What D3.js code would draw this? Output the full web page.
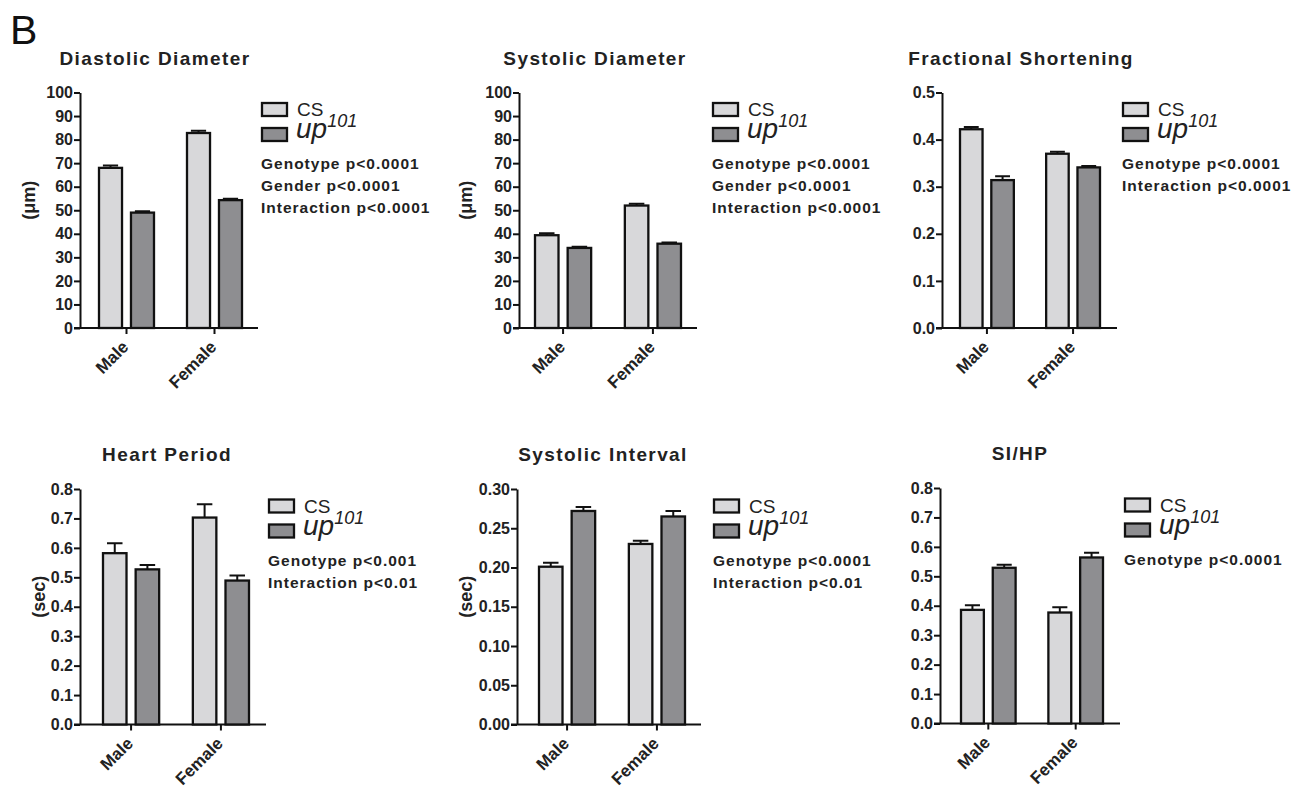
<!DOCTYPE html>
<html>
<head>
<meta charset="utf-8">
<script src="https://cdn.jsdelivr.net/npm/d3@7"></script>
<style>
  body { margin: 0; background: #fff; }
  svg { font-family: "Liberation Sans", Arial, sans-serif; }
  .axis path, .axis line { stroke: #111; stroke-width: 2px; }
  .axis text { font-size: 16px; font-weight: bold; fill: #222; font-family: "Liberation Sans", Arial, sans-serif; }
</style>
</head>
<body>
<div id="chart"></div>
<script>
var W = 1295, H = 791;

var categories = ["Male", "Female"];
var series = ["CS", "up101"];
var colors = {CS: "#d8d8da", up101: "#8e8e91"};

// values (mean, sem)
var diastolicCS = [68.0, 82.8], diastolicCSErr = [1.0, 1.0];
var diastolicUp = [49.0, 54.3], diastolicUpErr = [0.6, 0.6];
var systolicCS = [39.4, 52.0], systolicCSErr = [0.8, 0.8];
var systolicUp = [34.0, 35.8], systolicUpErr = [0.5, 0.5];
var fsCS = [0.422, 0.370], fsCSErr = [0.005, 0.004];
var fsUp = [0.314, 0.341], fsUpErr = [0.008, 0.003];
var hpCS = [0.582, 0.703], hpCSErr = [0.034, 0.045];
var hpUp = [0.527, 0.489], hpUpErr = [0.015, 0.017];
var siCS = [0.201, 0.230], siCSErr = [0.005, 0.004];
var siUp = [0.272, 0.265], siUpErr = [0.005, 0.007];
var sihpCS = [0.386, 0.377], sihpCSErr = [0.016, 0.018];
var sihpUp = [0.529, 0.564], sihpUpErr = [0.010, 0.016];

var titles = ["Diastolic Diameter", "Systolic Diameter", "Fractional Shortening",
              "Heart Period", "Systolic Interval", "SI/HP"];
var yLabels = ["(\u03bcm)", "(\u03bcm)", "", "(sec)", "(sec)", ""];
var stats = [
  ["Genotype p<0.0001", "Gender p<0.0001", "Interaction p<0.0001"],
  ["Genotype p<0.0001", "Gender p<0.0001", "Interaction p<0.0001"],
  ["Genotype p<0.0001", "Interaction p<0.0001"],
  ["Genotype p<0.001", "Interaction p<0.01"],
  ["Genotype p<0.0001", "Interaction p<0.01"],
  ["Genotype p<0.0001"]
];
var yMax = [100, 100, 0.5, 0.8, 0.30, 0.8];
var yStep = [10, 10, 0.1, 0.1, 0.05, 0.1];
var yFormat = ["d", "d", ".1f", ".1f", ".2f", ".1f"];

var values = [
  [diastolicCS, diastolicCSErr, diastolicUp, diastolicUpErr],
  [systolicCS, systolicCSErr, systolicUp, systolicUpErr],
  [fsCS, fsCSErr, fsUp, fsUpErr],
  [hpCS, hpCSErr, hpUp, hpUpErr],
  [siCS, siCSErr, siUp, siUpErr],
  [sihpCS, sihpCSErr, sihpUp, sihpUpErr]
];

// layout of each panel: axis origin, axis length, band range, label spots
var layout = [
  {x: 80,  top: 92.5, w: 178, band: [19, 162], ylx: 28,  tx: 155,  lx: 261},
  {x: 519, top: 92.5, w: 178, band: [16, 162], ylx: 465, tx: 595,  lx: 712},
  {x: 942, top: 92.5, w: 175, band: [18, 158], ylx: 0,   tx: 1021, lx: 1122},
  {x: 80,  top: 489,  w: 186, band: [23, 169], ylx: 38,  tx: 167,  lx: 268},
  {x: 517, top: 489,  w: 184, band: [22, 168], ylx: 465, tx: 603,  lx: 713},
  {x: 940, top: 488,  w: 180, band: [21, 163], ylx: 0,   tx: 1020, lx: 1124}
];
var plotH = 235.5;

var svg = d3.select("#chart")
            .append("svg")
            .attr("width", W)
            .attr("height", H);

svg.append("text")
   .attr("x", 10)
   .attr("y", 44)
   .style("font-size", "41px")
   .attr("fill", "#111")
   .text("B");

layout.forEach(function(L, i) {
	var g = svg.append("g").attr("transform", "translate(" + L.x + "," + L.top + ")");
	var v = values[i];
	var rows = categories.map(function(c, k) {
		return {cat: c, bars: [
			{s: "CS", val: v[0][k], err: v[1][k]},
			{s: "up101", val: v[2][k], err: v[3][k]}
		]};
	});

	var xScale = d3.scaleBand()
	               .domain(categories)
	               .range(L.band)
	               .paddingInner(0.375)
	               .paddingOuter(0);
	var xInner = d3.scaleBand()
	               .domain(series)
	               .range([0, xScale.bandwidth()])
	               .paddingInner(0.28);
	var yScale = d3.scaleLinear()
	               .domain([0, yMax[i]])
	               .range([plotH, 0]);

	var ticks = d3.range(0, Math.round(yMax[i] / yStep[i]) + 1).map(function(t) { return t * yStep[i]; });

	// y axis
	g.append("g")
	 .attr("class", "axis")
	 .call(d3.axisLeft(yScale).tickValues(ticks).tickSize(6).tickSizeOuter(0)
	         .tickFormat(d3.format(yFormat[i])).tickPadding(1));

	// x axis line and ticks
	g.append("line")
	 .attr("x1", -6).attr("x2", L.w)
	 .attr("y1", plotH).attr("y2", plotH)
	 .attr("stroke", "#111").attr("stroke-width", 2);
	g.selectAll(".xtick")
	 .data(categories)
	 .enter()
	 .append("line")
	 .attr("x1", d => xScale(d) + xScale.bandwidth() / 2)
	 .attr("x2", d => xScale(d) + xScale.bandwidth() / 2)
	 .attr("y1", plotH).attr("y2", plotH + 6)
	 .attr("stroke", "#111").attr("stroke-width", 2);
	g.selectAll(".xlab")
	 .data(categories)
	 .enter()
	 .append("text")
	 .attr("transform", d => "translate(" + (xScale(d) + xScale.bandwidth() / 2 + 3) + "," + (plotH + 20) + ") rotate(-45)")
	 .attr("text-anchor", "end")
	 .style("font-size", "17px")
	 .style("font-weight", "bold")
	 .attr("fill", "#222")
	 .text(d => d);

	// bars and error bars
	var grp = g.selectAll(".grp")
	           .data(rows)
	           .enter()
	           .append("g")
	           .attr("transform", d => "translate(" + xScale(d.cat) + ",0)");
	var bw = xInner.bandwidth();
	grp.selectAll(".err")
	   .data(d => d.bars)
	   .enter()
	   .append("path")
	   .attr("d", function(d) {
		   var cx = xInner(d.s) + bw / 2, yt = yScale(d.val + d.err), yb = yScale(d.val);
		   return "M" + cx + "," + yb + "V" + yt + "M" + (cx - bw * 0.33) + "," + yt + "H" + (cx + bw * 0.33);
	   })
	   .attr("stroke", "#111")
	   .attr("stroke-width", 2)
	   .attr("fill", "none");
	grp.selectAll("rect")
	   .data(d => d.bars)
	   .enter()
	   .append("rect")
	   .attr("x", d => xInner(d.s))
	   .attr("y", d => yScale(d.val))
	   .attr("width", bw)
	   .attr("height", d => plotH - yScale(d.val))
	   .attr("fill", d => colors[d.s])
	   .attr("stroke", "#111")
	   .attr("stroke-width", 2.3);

	// title
	svg.append("text")
	   .attr("x", L.tx)
	   .attr("y", L.top - 28)
	   .attr("text-anchor", "middle")
	   .style("font-size", "19px")
	   .style("font-weight", "bold")
	   .style("letter-spacing", "1.4px")
	   .attr("fill", "#222")
	   .text(titles[i]);

	// y label
	if (yLabels[i]) {
		svg.append("text")
		   .attr("transform", "translate(" + (L.ylx + 7) + "," + (L.top + plotH / 2 - 10) + ") rotate(-90)")
		   .attr("text-anchor", "middle")
		   .style("font-size", "18px")
		   .style("font-weight", "bold")
		   .attr("fill", "#222")
		   .text(yLabels[i]);
	}

	// legend
	var ly = L.top + 10.5;
	var leg = svg.append("g").attr("transform", "translate(" + L.lx + "," + ly + ")");
	series.forEach(function(s, k) {
		leg.append("rect")
		   .attr("x", 1).attr("y", k * 25)
		   .attr("width", 25).attr("height", 13)
		   .attr("fill", colors[s])
		   .attr("stroke", "#111")
		   .attr("stroke-width", 2.3);
	});
	leg.append("text")
	   .attr("x", 36).attr("y", 13)
	   .style("font-size", "19px")
	   .attr("fill", "#222")
	   .text("CS");
	var up = leg.append("text")
	   .attr("x", 35).attr("y", 35)
	   .style("font-size", "28px")
	   .style("font-style", "italic")
	   .attr("fill", "#222");
	up.append("tspan").text("up");
	up.append("tspan")
	  .attr("dy", -11)
	  .style("font-size", "18px")
	  .text("101");

	stats[i].forEach(function(s, k) {
		leg.append("text")
		   .attr("x", 0)
		   .attr("y", 66 + k * 22)
		   .style("font-size", "15.5px")
		   .style("font-weight", "bold")
		   .style("letter-spacing", "1px")
		   .attr("fill", "#222")
		   .text(s);
	});
});
</script>
</body>
</html>
